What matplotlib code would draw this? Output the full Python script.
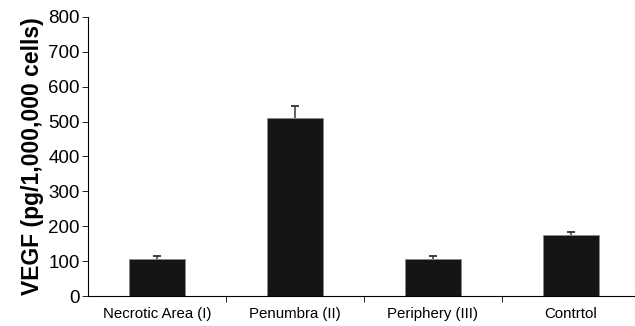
import numpy as np
import matplotlib
matplotlib.use("Agg")
import matplotlib.pyplot as plt

plt.rcParams['font.family'] = ['Liberation Sans', 'DejaVu Sans']

categories = ['Necrotic Area (I)', 'Penumbra (II)', 'Periphery (III)', 'Contrtol']
values = [106, 510, 105, 174]
errors = [9, 34, 9, 10]

fig = plt.figure(figsize=(6.35, 3.26), dpi=100)
ax = fig.add_axes([0.1386, 0.092, 0.8614, 0.856])

x = np.arange(len(categories))
vals = np.array(values)
errs = np.array(errors)
ax.bar(x, vals, width=0.406, color='#151515', edgecolor='#8a8a8a', linewidth=0.6)
# upper error only, cap only at top
ax.errorbar(x, vals, yerr=[np.zeros(len(errs)), errs], fmt='none',
            ecolor='#555555', elinewidth=1.3, capsize=0)
ax.plot(x, vals + errs, ls='none', marker='_', ms=6, mew=1.3, color='#333333')

# axis runs off the right edge of the picture
ax.set_xlim(-0.5, 3.465)
ax.set_ylim(0, 800)
ax.set_yticks(range(0, 801, 100))
ax.set_xticks(x)
ax.set_xticklabels(categories, fontsize=10.8)
ax.set_xticks(np.arange(0.5, len(categories) - 1, 1), minor=True)
ax.tick_params(axis='x', which='major', length=0, pad=8)
ax.tick_params(axis='x', which='minor', length=4, direction='out', width=0.6)
ax.tick_params(axis='y', labelsize=13.5, length=4, width=0.6, pad=2)
ax.set_ylabel('VEGF (pg/1,000,000 cells)', fontsize=16.5, fontweight='bold', labelpad=3)

ax.spines['top'].set_visible(False)
ax.spines['right'].set_visible(False)
ax.spines['left'].set_linewidth(0.8)
ax.spines['bottom'].set_linewidth(0.8)

fig.savefig('out.png', dpi=100)
